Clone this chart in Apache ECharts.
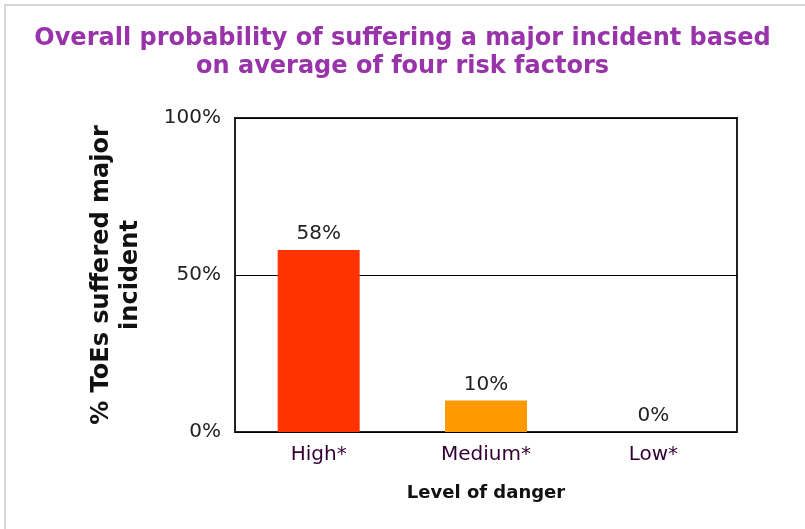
<!DOCTYPE html>
<html>
<head>
<meta charset="utf-8">
<script src="https://cdn.jsdelivr.net/npm/echarts@6/dist/echarts.min.js"></script>
<style>
html,body{margin:0;padding:0;background:#fff;}
#frame{position:absolute;left:4px;top:4px;width:801px;height:525px;border-left:2px solid #d6d6d6;border-top:2px solid #d6d6d6;box-sizing:border-box;}
#chart{position:absolute;left:0;top:0;width:805px;height:529px;}
</style>
</head>
<body>
<div id="frame"></div>
<div id="chart"></div>
<script>
const categories = ['High*', 'Medium*', 'Low*'];
const values = [58, 10, 0];
const barColors = ['#ff3300', '#ff9900', '#ffcc00'];
const yTicks = [0, 50, 100];

const chart = echarts.init(document.getElementById('chart'), null, {renderer: 'canvas'});
chart.setOption({
  backgroundColor: 'transparent',
  animation: false,
  title: {
    text: 'Overall probability of suffering a major incident based\non average of four risk factors',
    left: 'center',
    top: 20,
    textStyle: {
      fontFamily: 'DejaVu Sans',
      fontWeight: 'bold',
      fontSize: 24,
      lineHeight: 28,
      color: '#9933aa'
    }
  },
  grid: {
    left: 235, right: 68, top: 118, bottom: 97,
    show: true, borderColor: '#222', borderWidth: 2, backgroundColor: '#fff'
  },
  xAxis: {
    type: 'category',
    data: categories,
    axisLine: {show: false},
    axisTick: {show: false},
    axisLabel: {
      margin: 13,
      fontFamily: 'DejaVu Sans', fontSize: 20, color: '#330033'
    },
    name: 'Level of danger',
    nameLocation: 'middle',
    nameGap: 52,
    nameTextStyle: {fontFamily: 'DejaVu Sans', fontWeight: 'bold', fontSize: 18, color: '#111'}
  },
  yAxis: {
    type: 'value',
    min: 0, max: 100, interval: 50,
    axisLine: {show: false},
    axisTick: {show: false},
    axisLabel: {
      margin: 14,
      fontFamily: 'DejaVu Sans', fontSize: 20, color: '#222',
      formatter: v => yTicks.includes(v) ? v + '%' : ''
    },
    splitLine: {show: true, lineStyle: {color: '#000', width: 1}},
    name: '% ToEs suffered major\nincident',
    nameLocation: 'middle',
    nameGap: 90,
    nameRotate: 90,
    nameTextStyle: {fontFamily: 'DejaVu Sans', fontWeight: 'bold', fontSize: 24, lineHeight: 29, color: '#111'}
  },
  series: [{
    type: 'bar',
    barWidth: 82,
    data: values.map((v, i) => ({value: v, itemStyle: {color: barColors[i]}})),
    label: {
      show: true, position: 'top', distance: 6,
      formatter: '{c}%',
      fontFamily: 'DejaVu Sans', fontSize: 20, color: '#222'
    }
  }]
});
</script>
</body>
</html>
